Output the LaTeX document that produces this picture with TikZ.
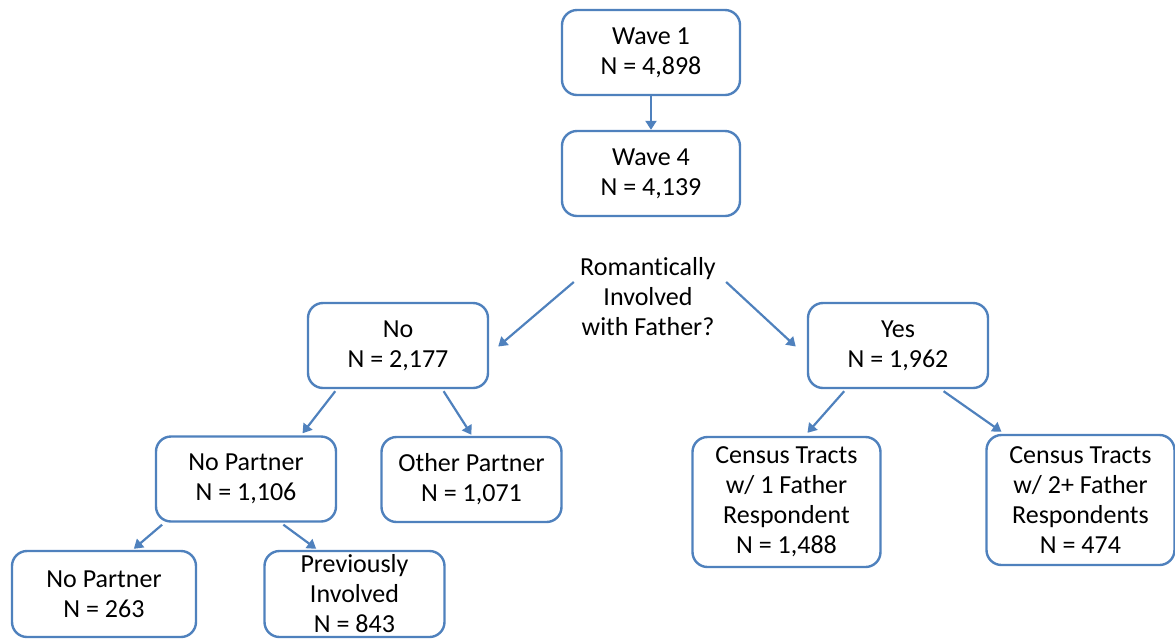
\documentclass[tikz,border=0pt]{standalone}
\usepackage{fontspec}
\setmainfont{Carlito}[Ligatures=NoCommon]
\usepackage{tikz}
\usetikzlibrary{positioning,arrows.meta,calc}
\definecolor{flowblue}{RGB}{79,129,189}
\tikzset{
  stage/.style={draw=flowblue, line width=1.2pt, rounded corners=7.5pt, fill=white,
                align=center, inner sep=1pt, minimum width=89pt, minimum height=42.5pt,
                font=\fontsize{13}{15}\selectfont},
  tallstage/.style={stage, minimum width=94pt, minimum height=65pt},
  question/.style={align=center, inner sep=1pt, font=\fontsize{13}{15}\selectfont},
  flow/.style={-{Triangle[length=4.5pt,width=5.5pt]}, draw=flowblue, line width=1.1pt},
}
\begin{document}
\begin{tikzpicture}[x=0.5pt,y=-0.5pt]
  \useasboundingbox (0,0) rectangle (1175,639);
  % top of the sample
  \node[stage] (w1) at (651,52.5) {Wave 1\\ N = 4,898};
  \node[stage] (w4) at (651,173.5) {Wave 4\\ N = 4,139};
  \node[question] (q) at (648,297) {Romantically\\ Involved\\ with Father?};
  % first split
  \node[stage, minimum width=90pt] (no) at (398,345.5) {No\\ N = 2,177};
  \node[stage, minimum width=90pt] (yes) at (898,345.5) {Yes\\ N = 1,962};
  % not involved
  \node[stage, minimum width=90pt] (np) at (246,479) {No Partner\\ N = 1,106};
  \node[stage, minimum width=90pt] (op) at (471.5,479.5) {Other Partner\\ N = 1,071};
  \node[stage, minimum width=92pt, minimum height=43pt] (np2) at (104,594) {No Partner\\ N = 263};
  \node[stage, minimum width=90pt, minimum height=43pt] (prev) at (354.5,594) {Previously\\ Involved\\ N = 843};
  % involved
  \node[tallstage] (c1) at (786.5,502) {Census Tracts\\ w/ 1 Father\\ Respondent\\ N = 1,488};
  \node[tallstage] (c2) at (1080.5,500) {Census Tracts\\ w/ 2+ Father\\ Respondents\\ N = 474};
  % connectors
  \draw[flow] (w1) -- (w4);
  \draw[flow] ($(q.west)+(-4,-15)$) -- ($(no.east)+(9,1)$);
  \draw[flow] ($(q.east)+(8,-15)$) -- ($(yes.west)+(-11,1)$);
  \draw[flow] ($(no.south west)!0.156!(no.south east)+(0,2)$) -- ($(np.north west)!0.81!(np.north east)+(0,-2)$);
  \draw[flow] ($(no.south west)!0.75!(no.south east)+(0,2)$) -- ($(op.north)+(0,-1)$);
  \draw[flow] ($(np.south west)!0.04!(np.south east)+(0,2)$) -- ($(np2.north west)!0.66!(np2.north east)+(0,-1)$);
  \draw[flow] ($(np.south west)!0.705!(np.south east)+(0,2)$) -- ($(prev.north west)!0.29!(prev.north east)+(0,-1)$);
  \draw[flow] ($(yes.south west)!0.205!(yes.south east)+(0,2)$) -- ($(c1.north west)!0.61!(c1.north east)+(0,-3)$);
  \draw[flow] ($(yes.south west)!0.75!(yes.south east)+(0,2)$) -- ($(c2.north west)!0.085!(c2.north east)+(0,-2)$);
\end{tikzpicture}
\end{document}
